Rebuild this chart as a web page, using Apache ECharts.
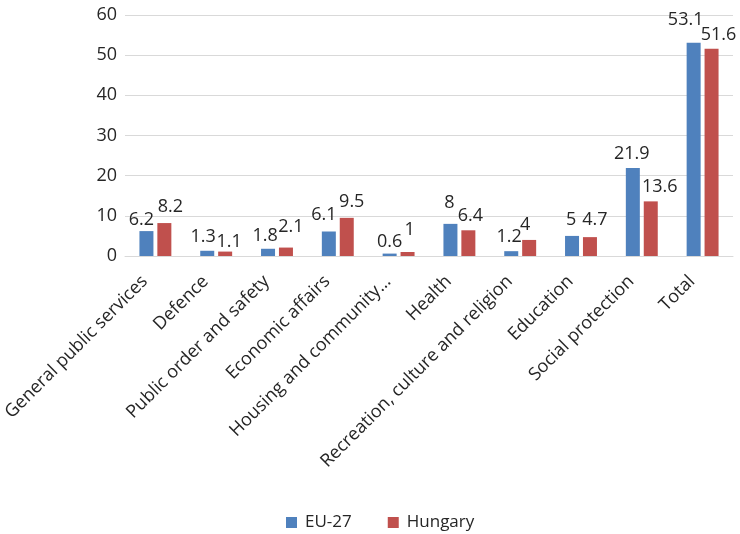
<!DOCTYPE html>
<html>
<head>
<meta charset="utf-8">
<script src="https://cdn.jsdelivr.net/npm/echarts@6/dist/echarts.min.js"></script>
<style>
  html, body { margin: 0; padding: 0; background: #fff; }
  #chart { width: 740px; height: 534px; }
</style>
</head>
<body>
<div id="chart"></div>
<script>
// Government expenditure by function, % of GDP
const categories = [
  'General public services',
  'Defence',
  'Public order and safety',
  'Economic affairs',
  'Housing and community…',
  'Health',
  'Recreation, culture and religion',
  'Education',
  'Social protection',
  'Total'
];
const eu27 = [6.2, 1.3, 1.8, 6.1, 0.6, 8, 1.2, 5, 21.9, 53.1];
const hungary = [8.2, 1.1, 2.1, 9.5, 1, 6.4, 4, 4.7, 13.6, 51.6];
const yTicks = { min: 0, max: 60, interval: 10 };

// Hand-placed nudges [dx, dy] for the value labels so neighbouring labels don't collide
const euLabelNudge = [[-5, 2], [-4, -1], [-3, 0], [-5, -4], [0, 1], [-1, -8], [-2, -1], [-1, -3], [-1, -1], [-8, -10]];
const huLabelNudge = [[6, -3], [4, 3], [5, -8], [5, -3], [2, -9], [2, -1], [-4, -2], [5, -4], [9, -1], [7, -1]];

const font = 'Open Sans, Liberation Sans, sans-serif';
const textColor = '#262626';

const chart = echarts.init(document.getElementById('chart'), null, { renderer: 'canvas' });

function barSeries(name, values, nudges, color) {
  return {
    name: name,
    type: 'bar',
    data: values.map((v, i) => ({
      value: v,
      label: { offset: nudges[i] }
    })),
    barWidth: 14,
    barGap: '28%',
    itemStyle: { color: color },
    label: {
      show: true,
      position: 'top',
      distance: 4,
      color: textColor,
      fontFamily: font,
      fontSize: 18
    }
  };
}

chart.setOption({
  animation: false,
  grid: { left: 118, right: 7, top: 15, bottom: 278, containLabel: false },
  legend: {
    top: 509,
    left: 281,
    itemWidth: 11,
    itemHeight: 11,
    itemGap: 36,
    icon: 'rect',
    textStyle: { color: textColor, fontFamily: font, fontSize: 17, padding: [0, 0, 0, 3] },
    data: ['EU-27', 'Hungary']
  },
  xAxis: {
    type: 'category',
    data: categories,
    axisLine: { show: true, lineStyle: { color: '#d9d9d9', width: 1 } },
    axisTick: { show: false },
    axisLabel: {
      interval: 0,
      rotate: 45,
      margin: 12,
      padding: [0, 15, 0, 0],
      color: textColor,
      fontFamily: font,
      fontSize: 18
    }
  },
  yAxis: {
    type: 'value',
    min: yTicks.min,
    max: yTicks.max,
    interval: yTicks.interval,
    axisLine: { show: false },
    axisTick: { show: false },
    splitLine: { lineStyle: { color: '#d9d9d9', width: 1 } },
    axisLabel: {
      margin: 8,
      color: textColor,
      fontFamily: font,
      fontSize: 18
    }
  },
  series: [
    barSeries('EU-27', eu27, euLabelNudge, '#4f81bd'),
    barSeries('Hungary', hungary, huLabelNudge, '#c0504d')
  ]
});
</script>
</body>
</html>
